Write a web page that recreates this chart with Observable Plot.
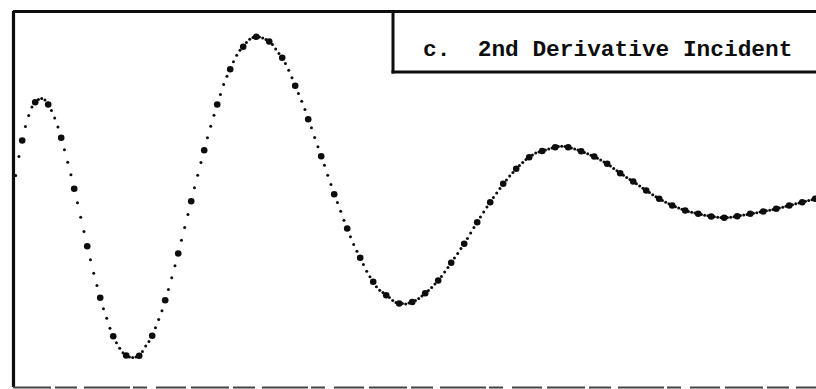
<!DOCTYPE html>
<html>
<head>
<meta charset="utf-8">
<script src="https://cdn.jsdelivr.net/npm/d3@7"></script>
<script src="https://cdn.jsdelivr.net/npm/@observablehq/plot@0.6"></script>
<style>
  html, body { margin: 0; padding: 0; background: #fff; }
  #chart svg { display: block; }
</style>
</head>
<body>
<div id="chart"></div>
<script>
// Sampled second-derivative waveform (arbitrary amplitude units, one value per sample).
const samples = [
  25, 44, 60, 74, 85, 93.5, 98.3, 101, 102, 100.5, 96, 90,
  82.5, 73.5, 62.7, 50.7, 38.3, 25.7, 11.7, -2.3, -16.7, -31, -45.7, -59.3,
  -72.7, -85, -97.3, -108.3, -117.7, -127.7, -135.7, -142.3, -147.7, -152.3, -155, -156.5,
  -157, -156.5, -155.3, -151, -145.5, -141, -135.3, -127.3, -119, -110.3, -99.7, -89,
  -77.3, -65.3, -53, -39.7, -27, -14, -0.7, 12.7, 25.3, 38, 50.3, 62.7,
  74.3, 85.3, 96, 106, 116, 124.3, 131.3, 138.7, 145.3, 150.3, 153.7, 158,
  161.3, 163, 163.7, 163.5, 162.5, 161, 159, 156, 151.5, 147, 142.7, 137,
  130.3, 122.7, 114.7, 107, 99.3, 91, 81.3, 72.7, 63, 53.7, 44.3, 35.3,
  25.3, 16, 6.3, -2, -10.7, -19.7, -28, -36.3, -44, -50.7, -57.3, -64,
  -70.7, -76.3, -81.3, -86.3, -89.7, -92, -94.7, -97, -100, -102, -103, -103,
  -103.5, -102.5, -101.5, -100, -98, -95.5, -92.7, -90, -87, -83.5, -80, -76,
  -71.5, -67, -62.3, -57.5, -53, -48, -43.3, -38, -32.5, -27, -21.7, -16.5,
  -11.5, -6.5, -1.7, 3, 7.5, 12, 16.7, 20.5, 24.5, 28, 31.7, 35,
  38, 41, 43.3, 45.5, 47.5, 48.5, 49.5, 50.5, 51.5, 52.5, 53.3, 54,
  54.2, 54, 53.3, 52.5, 51.5, 50.5, 49.3, 48, 46.7, 45.3, 44, 42.2,
  40.4, 38.5, 36.7, 34.4, 32, 29.7, 27.3, 25.2, 23.1, 21, 19, 16.8,
  14.5, 12.2, 10, 8, 5.8, 3.7, 1.7, 0, -1.7, -3.3, -5, -6.3,
  -7.5, -8.8, -10, -11, -11.7, -12.5, -13.3, -14, -14.7, -15.3, -16, -16.3,
  -16.7, -17, -17.3, -17, -16.7, -16.2, -15.7, -15.1, -14.5, -13.9, -13.3, -12.7,
  -12.2, -11.6, -11, -10.3, -9.7, -9, -8.3, -7.5, -6.7, -5.8, -5, -4.2,
  -3.3, -2.5, -1.7, -0.8, 0, 0.8, 1.7
];

// Every fourth sample is drawn as a heavy marker.
const markerEvery = 4;
const markerOffset = 2;

const panelLabel = "c.  2nd Derivative Incident";

const points = samples.map((v, i) => ({i, v, marker: i % markerEvery === markerOffset}));

const xDomain = [-0.68, 246.4];
const yDomain = [-187, 189];
const ink = "#0d0d0d";

const chart = Plot.plot({
  width: 816,
  height: 389,
  marginLeft: 13,
  marginTop: 11,
  marginBottom: 2,
  marginRight: 0,
  x: {domain: xDomain, axis: null},
  y: {domain: yDomain, axis: null},
  marks: [
    // fine dots for every sample
    Plot.dot(points.filter(d => !d.marker), {x: "i", y: "v", r: 1.5, fill: ink}),
    // heavy markers
    Plot.dot(points.filter(d => d.marker), {x: "i", y: "v", r: 3.3, fill: ink}),
    // panel border: left, top and bottom edges
    Plot.ruleX([xDomain[0]], {stroke: ink, strokeWidth: 3.2}),
    Plot.ruleY([yDomain[1]], {stroke: ink, strokeWidth: 3.2}),
    Plot.ruleY([yDomain[0]], {stroke: "#444", strokeWidth: 2, strokeDasharray: "38,4,22,7,46,3,14,9,30,5"})
  ]
});

document.getElementById("chart").appendChild(chart);

// Panel title box in the upper right corner
const svg = d3.select(chart);
const box = svg.append("g").attr("text-anchor", "start");
box.append("line")
  .attr("x1", 393).attr("x2", 393).attr("y1", 10).attr("y2", 73.5)
  .attr("stroke", ink).attr("stroke-width", 3);
box.append("line")
  .attr("x1", 391.5).attr("x2", 816).attr("y1", 72).attr("y2", 72)
  .attr("stroke", ink).attr("stroke-width", 3);
box.append("text")
  .attr("x", 423).attr("y", 56)
  .attr("text-anchor", "start")
  .attr("xml:space", "preserve")
  .style("white-space", "pre")
  .attr("font-family", "'Liberation Mono', 'Courier New', monospace")
  .attr("font-size", 22.8)
  .attr("font-weight", "bold")
  .attr("fill", ink)
  .text(panelLabel);
</script>
</body>
</html>
